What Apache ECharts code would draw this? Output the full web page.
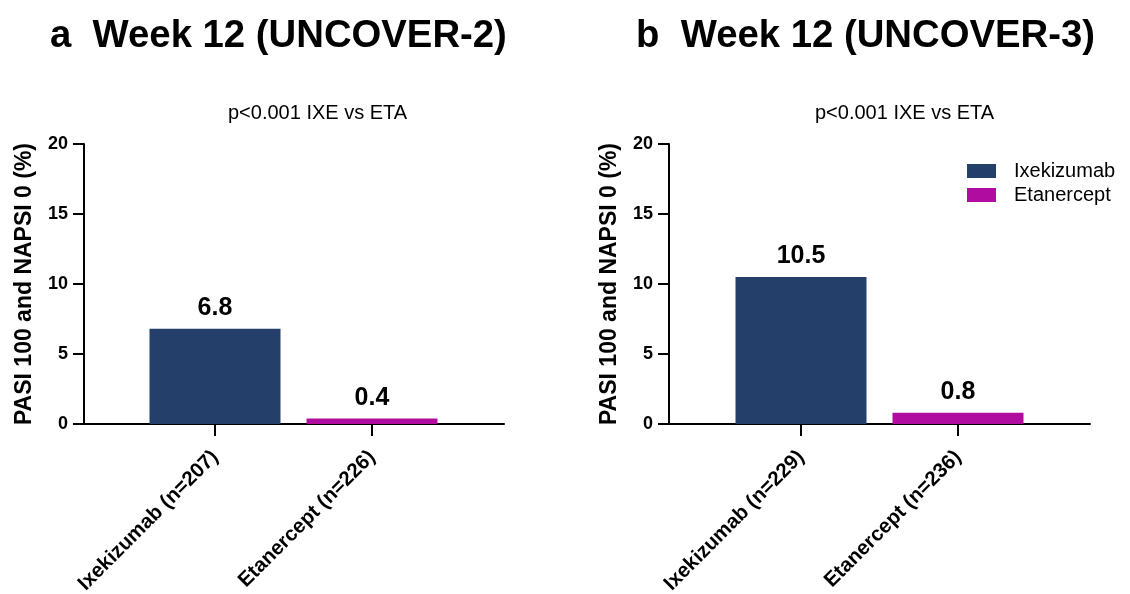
<!DOCTYPE html>
<html>
<head>
<meta charset="utf-8">
<script src="https://cdn.jsdelivr.net/npm/echarts@6/dist/echarts.min.js"></script>
<style>
  html, body { margin: 0; padding: 0; background: #fff; }
  #chart { width: 1130px; height: 594px; }
</style>
</head>
<body>
<div id="chart"></div>
<script>
// data
const seriesNames = ['Ixekizumab', 'Etanercept']
const categoriesA = ['Ixekizumab (n=207)', 'Etanercept (n=226)']
const categoriesB = ['Ixekizumab (n=229)', 'Etanercept (n=236)']
const ixeValues = [6.8, 10.5] // panel a, panel b
const etaValues = [0.4, 0.8]
const yMin = 0
const yMax = 20
const yStep = 5

const FONT = 'Liberation Sans, Arial, Helvetica, sans-serif'
const NAVY = '#253F6B'
const MAGENTA = '#B00DA0'

const chart = echarts.init(document.getElementById('chart'), null, { renderer: 'canvas' })

// grid 0/2: full axis frame, grid 1/3: the bars
const grids = [
  { left: 84, top: 144, width: 420, height: 280, outerBoundsMode: 'none' },
  { left: 136.5, top: 144, width: 314, height: 280, outerBoundsMode: 'none' },
  { left: 669, top: 144, width: 421, height: 280, outerBoundsMode: 'none' },
  { left: 722.5, top: 144, width: 314, height: 280, outerBoundsMode: 'none' }
]

function frameY(gridIndex) {
  return {
    type: 'value',
    gridIndex: gridIndex,
    min: yMin,
    max: yMax,
    interval: yStep,
    name: 'PASI 100 and NAPSI 0 (%)',
    nameLocation: 'middle',
    nameGap: 48,
    nameTextStyle: { fontFamily: FONT, fontWeight: 'bold', fontSize: 23, color: '#000' },
    axisLine: { show: true, lineStyle: { color: '#000', width: 2 } },
    axisTick: { show: true, length: 11, lineStyle: { color: '#000', width: 2 } },
    axisLabel: { fontFamily: FONT, fontWeight: 'bold', fontSize: 18, color: '#000', margin: 16 },
    splitLine: { show: false }
  }
}
function hiddenY(gridIndex) {
  return { type: 'value', gridIndex: gridIndex, min: yMin, max: yMax, show: false }
}
function frameX(gridIndex) {
  return {
    type: 'value',
    gridIndex: gridIndex,
    min: 0,
    max: 1,
    axisLine: { show: true, onZero: false, lineStyle: { color: '#000', width: 2 } },
    axisTick: { show: false },
    axisLabel: { show: false },
    splitLine: { show: false }
  }
}
function catX(gridIndex, cats) {
  return {
    type: 'category',
    gridIndex: gridIndex,
    data: cats,
    boundaryGap: true,
    axisLine: { show: false },
    axisTick: { show: true, alignWithLabel: true, length: 12, lineStyle: { color: '#000', width: 2 } },
    axisLabel: {
      rotate: 45, interval: 0, margin: 30,
      fontFamily: FONT, fontWeight: 'bold', fontSize: 20.5, color: '#000'
    }
  }
}

const barLabel = {
  show: true,
  position: 'top',
  distance: 8,
  fontFamily: FONT,
  fontWeight: 'bold',
  fontSize: 25,
  color: '#000'
}

function bars(panel, axisIndex) {
  return [
    {
      name: seriesNames[0],
      type: 'bar',
      xAxisIndex: axisIndex,
      yAxisIndex: axisIndex,
      data: [ixeValues[panel], '-'],
      barWidth: 131,
      barGap: '-100%',
      itemStyle: { color: NAVY },
      label: barLabel
    },
    {
      name: seriesNames[1],
      type: 'bar',
      xAxisIndex: axisIndex,
      yAxisIndex: axisIndex,
      data: ['-', etaValues[panel]],
      barWidth: 131,
      barGap: '-100%',
      itemStyle: { color: MAGENTA },
      label: barLabel
    }
  ]
}

chart.setOption({
  backgroundColor: '#fff',
  animation: false,
  title: [
    { text: 'a  Week 12 (UNCOVER-2)', left: 50, top: 17, padding: 0,
      textStyle: { fontFamily: FONT, fontWeight: 'bold', fontSize: 38.3, color: '#000' } },
    { text: 'b  Week 12 (UNCOVER-3)', left: 636, top: 17, padding: 0,
      textStyle: { fontFamily: FONT, fontWeight: 'bold', fontSize: 38.3, color: '#000' } },
    { text: 'p<0.001 IXE vs ETA', left: 228, top: 103, padding: 0,
      textStyle: { fontFamily: FONT, fontWeight: 'normal', fontSize: 20, color: '#000' } },
    { text: 'p<0.001 IXE vs ETA', left: 815, top: 103, padding: 0,
      textStyle: { fontFamily: FONT, fontWeight: 'normal', fontSize: 20, color: '#000' } }
  ],
  legend: {
    data: seriesNames,
    orient: 'vertical',
    left: 967,
    top: 161,
    padding: 0,
    itemWidth: 29,
    itemHeight: 14,
    itemGap: 4,
    icon: 'rect',
    textStyle: { fontFamily: FONT, fontSize: 20, color: '#000', padding: [0, 0, 0, 13] }
  },
  grid: grids,
  xAxis: [frameX(0), catX(1, categoriesA), frameX(2), catX(3, categoriesB)],
  yAxis: [frameY(0), hiddenY(1), frameY(2), hiddenY(3)],
  series: [].concat(bars(0, 1), bars(1, 3))
})
</script>
</body>
</html>
